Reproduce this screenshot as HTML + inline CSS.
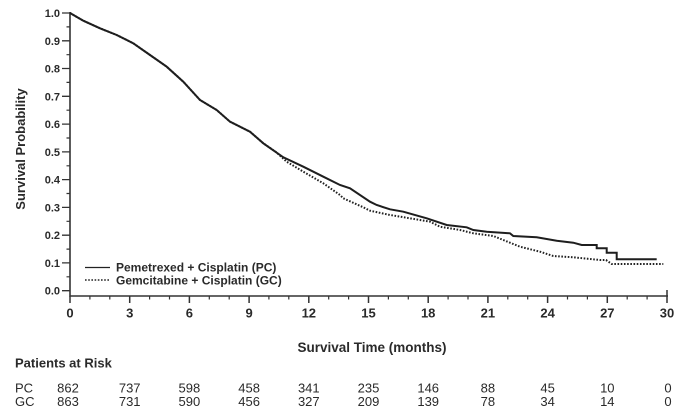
<!DOCTYPE html>
<html>
<head>
<meta charset="utf-8">
<style>
html,body{margin:0;padding:0;background:#fff;}
svg{display:block;}
text{font-family:"Liberation Sans",Arial,sans-serif;fill:#2a2a2a;}
.b{font-weight:bold;}
</style>
</head>
<body>
<svg width="679" height="409" viewBox="0 0 679 409" xmlns="http://www.w3.org/2000/svg">
  <!-- axes -->
  <path d="M70 12V296.5 M69.3 296H668" stroke="#333" stroke-width="1.6" fill="none"/>
  <!-- y major ticks -->
  <path d="M62 290.7H70 M62 262.9H70 M62 235.2H70 M62 207.4H70 M62 179.6H70 M62 151.9H70 M62 124.1H70 M62 96.3H70 M62 68.5H70 M62 40.8H70 M62 13H70" stroke="#333" stroke-width="1.3" fill="none"/>
  <!-- y minor ticks -->
  <path d="M66.5 276.8H70 M66.5 249.1H70 M66.5 221.3H70 M66.5 193.5H70 M66.5 165.8H70 M66.5 138H70 M66.5 110.2H70 M66.5 82.4H70 M66.5 54.7H70 M66.5 26.9H70" stroke="#333" stroke-width="1.2" fill="none"/>
  <!-- x major ticks -->
  <path d="M70 296V303 M129.7 296V303 M189.4 296V303 M249.1 296V303 M308.8 296V303 M368.5 296V303 M428.2 296V303 M487.9 296V303 M547.6 296V303 M607.3 296V303 M667 290V303" stroke="#333" stroke-width="1.5" fill="none"/>
  <!-- x minor ticks -->
  <path d="M89.9 296V299.5 M109.8 296V299.5 M149.6 296V299.5 M169.5 296V299.5 M209.3 296V299.5 M229.2 296V299.5 M268.9 296V299.5 M288.8 296V299.5 M328.7 296V299.5 M348.6 296V299.5 M388.4 296V299.5 M408.3 296V299.5 M448.1 296V299.5 M468 296V299.5 M507.8 296V299.5 M527.7 296V299.5 M567.5 296V299.5 M587.4 296V299.5 M627.2 296V299.5 M647.1 296V299.5" stroke="#333" stroke-width="1.2" fill="none"/>

  <!-- y tick labels -->
  <g class="b" font-size="11" text-anchor="end">
    <text x="60" y="294.7">0.0</text>
    <text x="60" y="266.9">0.1</text>
    <text x="60" y="239.2">0.2</text>
    <text x="60" y="211.4">0.3</text>
    <text x="60" y="183.6">0.4</text>
    <text x="60" y="155.9">0.5</text>
    <text x="60" y="128.1">0.6</text>
    <text x="60" y="100.3">0.7</text>
    <text x="60" y="72.5">0.8</text>
    <text x="60" y="44.8">0.9</text>
    <text x="60" y="17">1.0</text>
  </g>
  <!-- x tick labels -->
  <g class="b" font-size="13" text-anchor="middle">
    <text x="70" y="317.3">0</text>
    <text x="129.7" y="317.3">3</text>
    <text x="189.4" y="317.3">6</text>
    <text x="249.1" y="317.3">9</text>
    <text x="308.8" y="317.3">12</text>
    <text x="368.5" y="317.3">15</text>
    <text x="428.2" y="317.3">18</text>
    <text x="487.9" y="317.3">21</text>
    <text x="547.6" y="317.3">24</text>
    <text x="607.3" y="317.3">27</text>
    <text x="667" y="317.3">30</text>
  </g>

  <!-- axis titles -->
  <text class="b" font-size="13" text-anchor="middle" transform="translate(25,149) rotate(-90)">Survival Probability</text>
  <text class="b" font-size="13.5" x="372" y="352" text-anchor="middle">Survival Time (months)</text>

  <!-- GC dotted curve -->
  <polyline fill="none" stroke="#222" stroke-width="2" stroke-dasharray="1.6 1.6"
    points="70,13 83.3,20.7 100,28.3 116.7,35 133.3,43.3 150,55 166.7,66.7 183.3,81.7 200,100 216.7,110 230,121.7 250,131.7 263.3,143.3 276,152 286.7,161.7 303.3,171.7 323.3,183.3 340,195 343.3,198.3 363.3,207.3 370,210.7 390,215 393.3,215.5 420,220 430,221.7 440,226.7 460,230 473.3,233.3 493.3,236 503.3,240 520,246.7 540,251.7 553.3,256 573.3,257.3 600,260 606,260 611.7,264 663.3,264"/>
  <!-- PC solid curve -->
  <polyline fill="none" stroke="#1e1e1e" stroke-width="2"
    points="70,13 83.3,20.7 100,28.3 116.7,35 133.3,43.3 150,55 166.7,66.7 183.3,81.7 200,100 216.7,110 230,121.7 250,131.7 263.3,143.3 283.3,157.3 303.3,166.7 323.3,176.7 340,185 350,188.3 370,201.7 376.7,205 390,209.3 403.3,211.7 426.7,218.3 446.7,225 466.7,227.3 473.3,230 486.7,231.7 510,233.3 513.3,236 536.7,237.3 556.7,240.7 573.3,242.7 581.7,245 596.7,245 596.7,248.3 606.7,248.3 606.7,252.7 616.7,252.7 616.7,259.3 656.7,259.3"/>

  <!-- legend -->
  <line x1="85" y1="267.5" x2="110" y2="267.5" stroke="#222" stroke-width="1.3"/>
  <line x1="85" y1="280" x2="110" y2="280" stroke="#222" stroke-width="1.6" stroke-dasharray="1.6 1.6"/>
  <text class="b" font-size="12" x="116" y="271.5">Pemetrexed + Cisplatin (PC)</text>
  <text class="b" font-size="12" x="116" y="284.3">Gemcitabine + Cisplatin (GC)</text>

  <!-- patients at risk -->
  <text class="b" font-size="13" x="15" y="367.3">Patients at Risk</text>
  <g font-size="13">
    <text x="15" y="392.7">PC</text>
    <text x="15" y="406">GC</text>
  </g>
  <g font-size="13" text-anchor="middle">
    <text x="68" y="392.7">862</text>
    <text x="129.7" y="392.7">737</text>
    <text x="189.4" y="392.7">598</text>
    <text x="249.1" y="392.7">458</text>
    <text x="308.8" y="392.7">341</text>
    <text x="368.5" y="392.7">235</text>
    <text x="428.2" y="392.7">146</text>
    <text x="487.9" y="392.7">88</text>
    <text x="547.6" y="392.7">45</text>
    <text x="607.3" y="392.7">10</text>
    <text x="668" y="392.7">0</text>

    <text x="68" y="406">863</text>
    <text x="129.7" y="406">731</text>
    <text x="189.4" y="406">590</text>
    <text x="249.1" y="406">456</text>
    <text x="308.8" y="406">327</text>
    <text x="368.5" y="406">209</text>
    <text x="428.2" y="406">139</text>
    <text x="487.9" y="406">78</text>
    <text x="547.6" y="406">34</text>
    <text x="607.3" y="406">14</text>
    <text x="668" y="406">0</text>
  </g>
</svg>
</body>
</html>
